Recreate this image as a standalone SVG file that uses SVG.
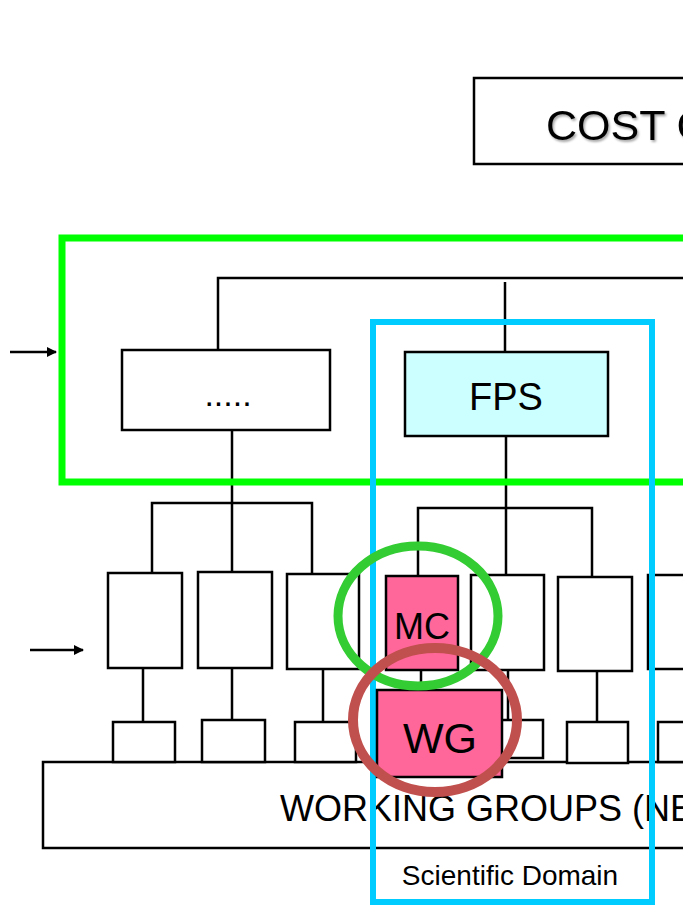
<svg xmlns="http://www.w3.org/2000/svg" width="683" height="906" viewBox="0 0 683 906">
<style>
.box{fill:#fff;stroke:#000;stroke-width:2.5}
.pink{fill:#FF6699;stroke:#000;stroke-width:2.5}
.ln{stroke:#000;stroke-width:2.5;fill:none}
.t{font-family:"Liberation Sans",Arial,sans-serif;fill:#000}
</style>
<defs>
<marker id="ah" markerWidth="10" markerHeight="10" refX="9" refY="5" orient="auto" markerUnits="userSpaceOnUse">
<path d="M0,0 L10,5 L0,10 z" fill="#000"/>
</marker>
<filter id="sh" x="-10%" y="-10%" width="130%" height="140%">
<feDropShadow dx="1.5" dy="2" stdDeviation="1.2" flood-color="#000" flood-opacity="0.35"/>
</filter>
</defs>
<rect width="683" height="906" fill="#fff"/>
<g id="wg-band">
<rect class="box" x="43" y="762" width="660" height="86"/>
<text class="t" x="280" y="821" font-size="36">WORKING GROUPS (NE</text>
</g>
<g id="cost">
<rect class="box" x="474" y="78" width="230" height="86"/>
<text class="t" x="546" y="140" font-size="43" filter="url(#sh)">COST C</text>
</g>
<g id="connectors">
<path class="ln" d="M218,350 V278 H683"/>
<path class="ln" d="M505,282 V352"/>
<path class="ln" d="M10,352 H56" marker-end="url(#ah)"/>
<path class="ln" d="M30,650 H83" marker-end="url(#ah)"/>
<path class="ln" d="M232,430 V573 M152,573 V503 H312 V574"/>
<path class="ln" d="M506,436 V575 M418,576 V508 H592 V577"/>
<path class="ln" d="M143,668 V722 M232,668 V720 M323,669 V722 M421,670 V690 M508,670 V720 M597,671 V722"/>
</g>
<g id="small-boxes">
<rect class="box" x="113" y="722" width="62" height="40"/>
<rect class="box" x="202" y="720" width="63" height="42"/>
<rect class="box" x="295" y="722" width="61" height="40"/>
<rect class="box" x="480" y="720" width="63" height="38"/>
<rect class="box" x="567" y="722" width="61" height="41"/>
<rect class="box" x="658" y="722" width="40" height="40"/>
</g>
<g id="dots-node">
<rect class="box" x="122" y="350" width="208" height="80"/>
<text class="t" x="228" y="406" font-size="34" text-anchor="middle">.....</text>
</g>
<g id="fps">
<rect x="405" y="352" width="203" height="84" fill="#CCFFFF" stroke="#000" stroke-width="2.5"/>
<text class="t" x="506" y="410" font-size="38" text-anchor="middle">FPS</text>
</g>
<g id="lower-boxes">
<rect class="box" x="108" y="573" width="74" height="95"/>
<rect class="box" x="198" y="572" width="74" height="96"/>
<rect class="box" x="287" y="574" width="72" height="95"/>
<rect class="box" x="471" y="575" width="73" height="95"/>
<rect class="box" x="558" y="577" width="74" height="94"/>
<rect class="box" x="648" y="575" width="50" height="94"/>
</g>
<g id="green-frame">
<rect x="62" y="238" width="640" height="244" fill="none" stroke="#00FF00" stroke-width="7"/>
</g>
<g id="scientific-domain">
<rect x="373" y="322" width="279" height="580" fill="none" stroke="#00CCFF" stroke-width="6"/>
<text class="t" x="510" y="885" font-size="28" text-anchor="middle">Scientific Domain</text>
</g>
<g id="mc">
<rect class="pink" x="386" y="576" width="72" height="94"/>
<text class="t" x="422" y="639" font-size="36" text-anchor="middle">MC</text>
</g>
<g id="wg">
<rect class="pink" x="377" y="690" width="125" height="87"/>
<text class="t" x="440" y="753" font-size="43" text-anchor="middle">WG</text>
</g>
<g id="highlights">
<ellipse cx="418" cy="616" rx="80" ry="70" fill="none" stroke="#33CC33" stroke-width="9"/>
<ellipse cx="435" cy="720" rx="82" ry="72" fill="none" stroke="#C0504D" stroke-width="10"/>
</g>
</svg>
